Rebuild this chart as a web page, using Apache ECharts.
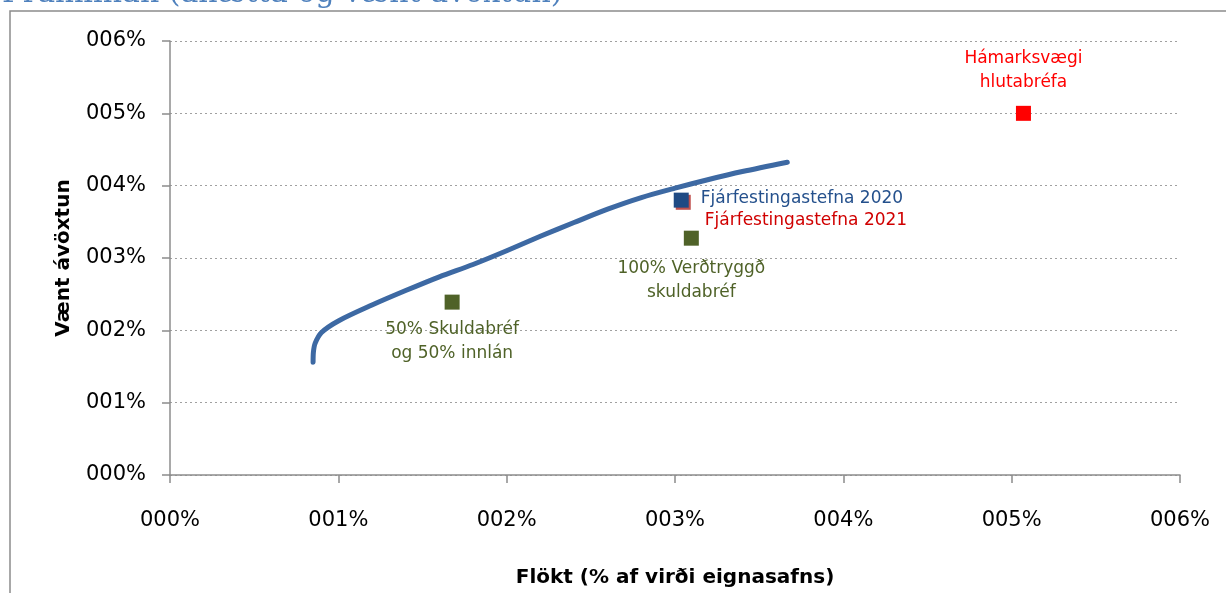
<!DOCTYPE html>
<html>
<head>
<meta charset="utf-8">
<script src="https://cdn.jsdelivr.net/npm/echarts@6/dist/echarts.min.js"></script>
<style>
html,body{margin:0;padding:0;background:#fff;}
#chart{width:1226px;height:593px;}
</style>
</head>
<body>
<div id="chart"></div>
<script>
// ---- Data ----
var titleText = 'Framlínan (áhætta og vænt ávöxtun)';
var xAxisTitle = 'Flökt (% af virði eignasafns)';
var yAxisTitle = 'Vænt ávöxtun';
var axisMin = 0, axisMax = 6, axisStep = 1;

// Efficient frontier curve (x = volatility %, y = expected return %)
var frontierX = [0.850, 0.852, 0.862, 0.90, 1.00, 1.20, 1.40, 1.60, 1.80, 2.00, 2.20, 2.40, 2.60, 2.80, 3.00, 3.20, 3.40, 3.667];
var frontierY = [1.56, 1.70, 1.82, 1.97, 2.13, 2.35, 2.55, 2.74, 2.91, 3.10, 3.30, 3.49, 3.675, 3.835, 3.965, 4.085, 4.195, 4.324];

// Portfolio points
var pointNames = ['Fjárfestingastefna 2021', 'Fjárfestingastefna 2020', '100% Verðtryggð\nskuldabréf', '50% Skuldabréf\nog 50% innlán', 'Hámarksvægi\nhlutabréfa'];
var pointX = [3.049, 3.037, 3.097, 1.676, 5.07];
var pointY = [3.77, 3.80, 3.274, 2.390, 5.00];

// ---- Styles (kept separate from data) ----
var pointStyles = [
  {color: '#C0504D', labelColor: '#D00000', pos: 'right', dist: 14, offset: [0, 18]},
  {color: '#1F4A84', labelColor: '#24508C', pos: 'right', dist: 12, offset: [0, -2]},
  {color: '#4F6228', labelColor: '#4F6228', pos: 'bottom', dist: 11, offset: [0, 0]},
  {color: '#4F6228', labelColor: '#4F6228', pos: 'bottom', dist: 8, offset: [0, 0]},
  {color: '#FF0000', labelColor: '#FF0000', pos: 'top', dist: 11, offset: [0, 0]}
];

var FONT = 'DejaVu Sans';
function pct(v) { return String(Math.round(v)).padStart(3, '0') + '%'; }

var frontierData = frontierX.map(function (x, i) { return [x, frontierY[i]]; });

var series = [{
  type: 'line',
  data: frontierData,
  smooth: 0.3,
  showSymbol: false,
  symbol: 'none',
  lineStyle: {color: '#3D69A3', width: 5, cap: 'round', join: 'round'},
  z: 2,
  silent: true
}];

pointNames.forEach(function (name, i) {
  var st = pointStyles[i];
  series.push({
    type: 'scatter',
    name: name,
    data: [[pointX[i], pointY[i]]],
    symbol: 'rect',
    symbolSize: 15,
    itemStyle: {color: st.color, opacity: 1},
    z: 3 + i,
    label: {
      show: true,
      formatter: name,
      position: st.pos,
      distance: st.dist,
      offset: st.offset,
      color: st.labelColor,
      fontFamily: FONT,
      fontSize: 17,
      lineHeight: 24,
      align: st.pos === 'right' ? 'left' : 'center'
    },
    silent: true
  });
});

var chart = echarts.init(document.getElementById('chart'), null, {renderer: 'canvas'});
chart.setOption({
  animation: false,
  backgroundColor: '#ffffff',
  grid: {left: 170, right: 46, top: 41, bottom: 118, containLabel: false},
  xAxis: {
    type: 'value',
    min: axisMin, max: axisMax, interval: axisStep,
    name: xAxisTitle,
    nameLocation: 'middle',
    nameGap: 93,
    nameTextStyle: {fontFamily: FONT, fontSize: 20, fontWeight: 'bold', color: '#000'},
    axisLine: {show: true, lineStyle: {color: '#8C8C8C', width: 1.5}},
    axisTick: {show: true, length: 8, lineStyle: {color: '#8C8C8C', width: 1.5}},
    axisLabel: {formatter: pct, fontFamily: FONT, fontSize: 21, color: '#000', margin: 35},
    splitLine: {show: false}
  },
  yAxis: {
    type: 'value',
    min: axisMin, max: axisMax, interval: axisStep,
    name: yAxisTitle,
    nameLocation: 'middle',
    nameRotate: 90,
    nameGap: 96,
    nameTextStyle: {fontFamily: FONT, fontSize: 20, fontWeight: 'bold', color: '#000'},
    axisLine: {show: true, lineStyle: {color: '#8C8C8C', width: 1.5}},
    axisTick: {show: true, length: 8, lineStyle: {color: '#8C8C8C', width: 1.5}},
    axisLabel: {formatter: pct, fontFamily: FONT, fontSize: 21, color: '#000', margin: 24},
    splitLine: {show: true, lineStyle: {color: '#A0A0A0', width: 1.2, type: [2, 3]}}
  },
  graphic: [
    {
      type: 'rect',
      shape: {x: 10, y: 11, width: 1400, height: 800},
      style: {fill: 'none', stroke: '#8C8C8C', lineWidth: 1.5},
      silent: true, z: -1
    },
    {
      type: 'text',
      x: 2, y: -21,
      style: {text: titleText, fill: '#4F81BD', font: '30px "DejaVu Serif"'},
      silent: true
    }
  ],
  series: series
});
</script>
</body>
</html>
